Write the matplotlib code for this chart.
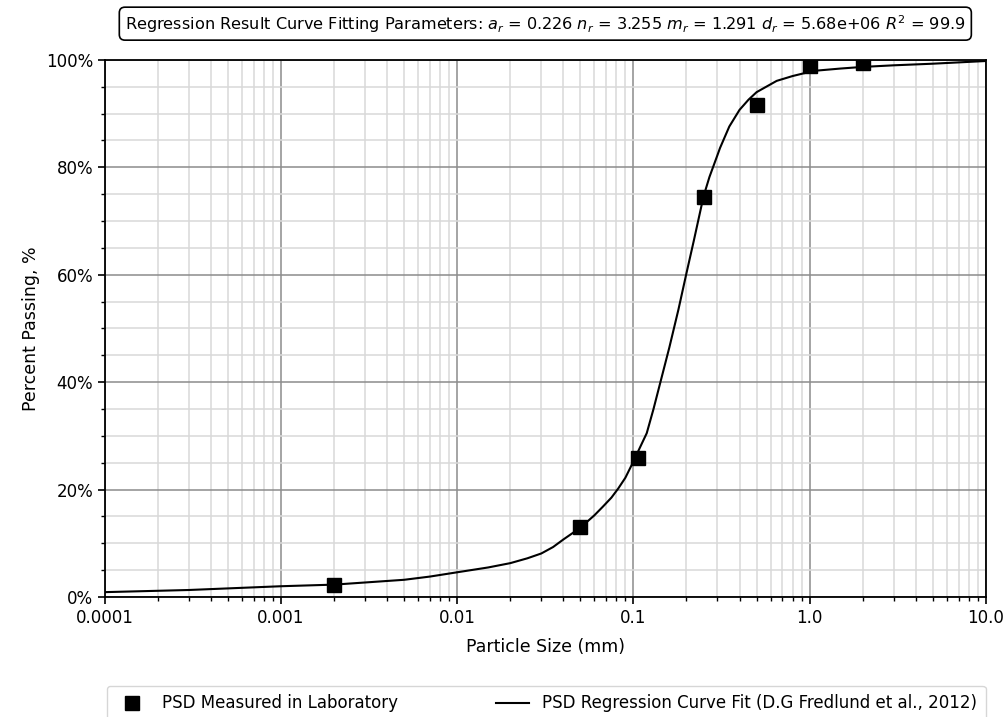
import matplotlib.pyplot as plt
from matplotlib.ticker import FixedLocator, FixedFormatter, MultipleLocator, PercentFormatter, LogLocator, NullFormatter

# laboratory sieve / hydrometer results
lab_size = [0.002, 0.05, 0.106, 0.25, 0.5, 1.0, 2.0]
lab_pass = [2.2, 13.0, 25.9, 74.4, 91.7, 98.8, 99.4]

# fitted curve (Fredlund et al., 2012)
fit_size = [0.0001, 0.0003, 0.001, 0.002, 0.005, 0.007, 0.01, 0.015, 0.02, 0.025,
            0.03, 0.035, 0.04, 0.05, 0.06, 0.067, 0.075, 0.082, 0.09, 0.0975,
            0.119, 0.13, 0.141, 0.16, 0.18, 0.2, 0.22, 0.25, 0.27, 0.30, 0.31,
            0.35, 0.40, 0.45, 0.50, 0.65, 0.8, 0.95, 1.0, 1.5, 2.0, 3.0, 5.0, 10.0]
fit_pass = [0.9, 1.3, 2.0, 2.3, 3.2, 3.8, 4.6, 5.5, 6.3, 7.2,
            8.1, 9.3, 10.7, 12.9, 15.2, 16.8, 18.5, 20.2, 22.2, 24.5,
            30.5, 35.0, 39.5, 46.5, 53.5, 60.3, 66.3, 74.6, 78.2, 82.3, 83.6,
            87.6, 90.7, 92.6, 94.0, 96.1, 97.0, 97.6, 97.9, 98.4, 98.7, 99.0, 99.3, 99.8]

x_ticks = [0.0001, 0.001, 0.01, 0.1, 1.0, 10.0]
x_labels = ['0.0001', '0.001', '0.01', '0.1', '1.0', '10.0']

params = r'Regression Result Curve Fitting Parameters: $a_r$ = 0.226 $n_r$ = 3.255 $m_r$ = 1.291 $d_r$ = 5.68e+06 $R^2$ = 99.9'

fig = plt.figure(figsize=(10.08, 7.17), dpi=100)
ax = fig.add_axes([0.104, 0.1674, 0.874, 0.749])

ax.plot(lab_size, lab_pass, 's', color='black', markersize=10, zorder=3,
        label='PSD Measured in Laboratory')
ax.plot(fit_size, fit_pass, '-', color='black', linewidth=1.5, zorder=2,
        label='PSD Regression Curve Fit (D.G Fredlund et al., 2012)')

ax.set_xscale('log')
ax.set_xlim(0.0001, 10)
ax.set_ylim(0, 100)
ax.xaxis.set_major_locator(FixedLocator(x_ticks))
ax.xaxis.set_major_formatter(FixedFormatter(x_labels))
ax.xaxis.set_minor_locator(LogLocator(base=10, subs=range(2, 10), numticks=20))
ax.xaxis.set_minor_formatter(NullFormatter())
ax.yaxis.set_major_locator(MultipleLocator(20))
ax.yaxis.set_minor_locator(MultipleLocator(5))
ax.yaxis.set_major_formatter(PercentFormatter(decimals=0))

ax.grid(which='major', color='#8c8c8c', linewidth=1.1)
ax.grid(which='minor', color='#d9d9d9', linewidth=1.1)
ax.set_axisbelow(True)

for s in ax.spines.values():
    s.set_linewidth(1.3)
ax.tick_params(which='major', length=5, width=1.2, labelsize=12, direction='out')
ax.tick_params(which='minor', length=3, width=1.0, direction='out')

ax.set_xlabel('Particle Size (mm)', fontsize=12.5, labelpad=8)
ax.set_ylabel('Percent Passing, %', fontsize=12.5)

fig.text(0.541, 0.967, params, ha='center', va='center', fontsize=11.6,
         bbox=dict(boxstyle='round,pad=0.35', facecolor='white', edgecolor='black', linewidth=1.2))

# legend sits below the axis label, running the full width of the axes
ax.legend(loc='upper left', bbox_to_anchor=(0.002, -0.266, 0.998, 0.1), mode='expand',
          ncol=2, fontsize=12, frameon=True, edgecolor='#cccccc', fancybox=True,
          handlelength=2.0, borderpad=0.5, borderaxespad=0)

fig.savefig('out.png', dpi=100)
